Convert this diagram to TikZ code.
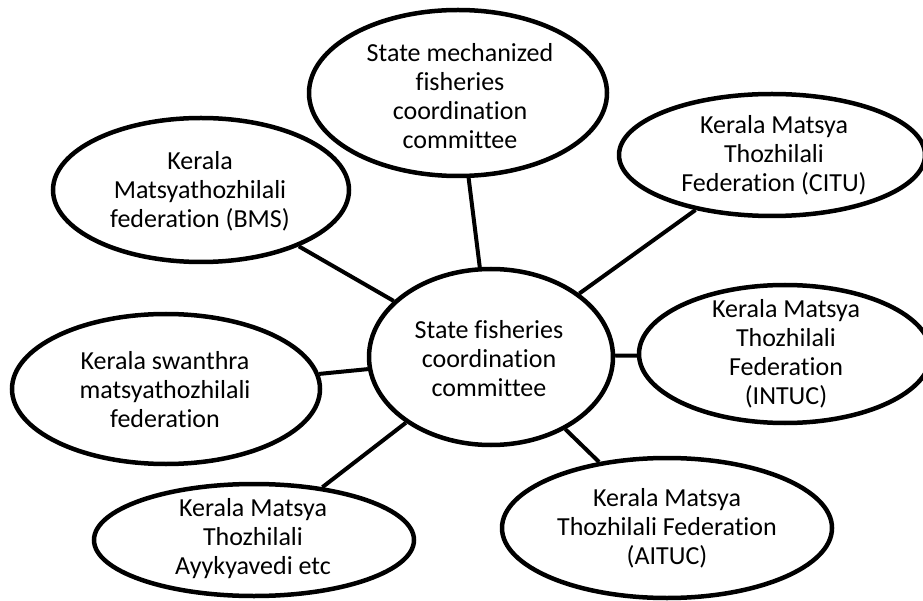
\documentclass[tikz,border=0pt]{standalone}
\usepackage{fontspec}
\setmainfont{Carlito}[Ligatures=NoCommon]
\usetikzlibrary{shapes.geometric}
\begin{document}
\begin{tikzpicture}[x=1pt,y=-1pt,
  oval/.style={ellipse, draw=black, line width=4.5pt, fill=white, inner sep=0pt},
  lbl/.style={align=center, font=\fontsize{26}{29}\selectfont, inner sep=0pt},
  link/.style={draw=black, line width=4pt}]
\useasboundingbox (0,0) rectangle (923,601);
% ellipses (centres in pixels, y downwards)
\node[oval, minimum width=244pt, minimum height=176pt] (ctr)   at (491,357) {};
\node[oval, minimum width=298pt, minimum height=166pt] (top)   at (458,93)  {};
\node[oval, minimum width=296pt, minimum height=144pt] (bms)   at (201,190) {};
\node[oval, minimum width=306pt, minimum height=122pt] (citu)  at (772,155) {};
\node[oval, minimum width=308pt, minimum height=150pt] (left)  at (166,389) {};
\node[oval, minimum width=292pt, minimum height=138pt] (intuc) at (785,354) {};
\node[oval, minimum width=320pt, minimum height=112pt] (bl)    at (254,540) {};
\node[oval, minimum width=330pt, minimum height=140pt] (br)    at (667,528) {};
% connectors
\draw[link] (ctr) -- (top);
\draw[link] (ctr) -- (bms);
\draw[link] (ctr) -- (citu);
\draw[link] (ctr) -- (left);
\draw[link] (ctr) -- (intuc);
\draw[link] (ctr) -- (bl);
\draw[link] (ctr) -- (br);
% labels
\node[lbl] (tctr)   at (489,359) {State fisheries\\coordination\\committee};
\node[lbl] (ttop)   at (460,96)  {State mechanized\\fisheries\\coordination\\committee};
\node[lbl] (tbms)   at (200,191) {Kerala\\Matsyathozhilali\\federation (BMS)};
\node[lbl] (tcitu)  at (774,155) {Kerala Matsya\\Thozhilali\\Federation (CITU)};
\node[lbl] (tleft)  at (165,390) {Kerala swanthra\\matsyathozhilali\\federation};
\node[lbl] (tintuc) at (786,354) {Kerala Matsya\\Thozhilali\\Federation\\(INTUC)};
\node[lbl] (tbl)    at (253,539) {Kerala Matsya\\Thozhilali\\Ayykyavedi etc};
\node[lbl] (tbr)    at (667,528) {Kerala Matsya\\Thozhilali Federation\\(AITUC)};
\end{tikzpicture}
\end{document}
